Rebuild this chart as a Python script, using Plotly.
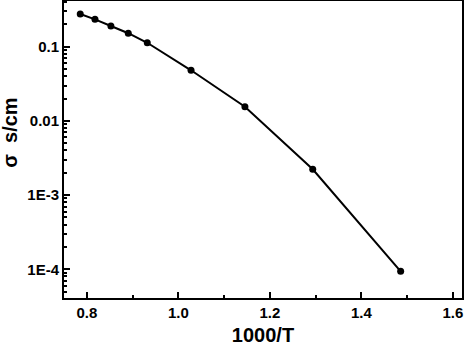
import plotly.graph_objects as go

inv_T = [0.7855, 0.8177, 0.8525, 0.8905, 0.9320, 1.0277, 1.1455, 1.2937, 1.4859]
sigma = [0.276, 0.234, 0.190, 0.152, 0.113, 0.0481, 0.0155, 0.00223, 0.000094]

y_tickvals = [0.1, 0.01, 0.001, 0.0001]
y_ticktext = ["0.1", "0.01", "1E-3", "1E-4"]
y_minor = [m * 10.0 ** e for e in (-5, -4, -3, -2, -1) for m in range(2, 10)]
x_tickvals = [0.8, 1.0, 1.2, 1.4, 1.6]
x_ticktext = ["0.8", "1.0", "1.2", "1.4", "1.6"]
x_title = "1000/T"
y_title = "σ  s/cm"

FONT = "Liberation Sans, Arial, sans-serif"

fig = go.Figure()
fig.add_trace(go.Scatter(
    x=inv_T, y=sigma, mode="lines+markers",
    line=dict(color="black", width=2),
    marker=dict(color="black", size=7),
    showlegend=False,
))

fig.update_layout(
    width=465, height=346,
    margin=dict(l=64, r=3, t=1, b=48),
    paper_bgcolor="white", plot_bgcolor="white",
    font=dict(family=FONT, color="black"),
)
fig.update_xaxes(
    range=[0.75, 1.62], tickvals=x_tickvals, ticktext=x_ticktext,
    ticks="inside", ticklen=6, tickwidth=2, tickcolor="black",
    minor=dict(ticks="inside", ticklen=3, tickwidth=1.5, tickcolor="black", dtick=0.1, showgrid=False),
    showline=True, linecolor="black", linewidth=2, mirror=True,
    showgrid=False, zeroline=False, automargin=False,
    tickfont=dict(size=15, family=FONT, weight="bold"),
    title=dict(text=x_title, font=dict(size=20, family=FONT, weight="bold"), standoff=10),
)
fig.update_yaxes(
    type="log", range=[-4.387, -0.384], tickvals=y_tickvals, ticktext=y_ticktext,
    ticks="inside", ticklen=6, tickwidth=2, tickcolor="black",
    minor=dict(ticks="inside", ticklen=3, tickwidth=1.5, tickcolor="black",
               tickmode="array", tickvals=y_minor, showgrid=False),
    showline=True, linecolor="black", linewidth=2, mirror=True,
    showgrid=False, zeroline=False, automargin=False,
    tickfont=dict(size=15, family=FONT, weight="bold"),
)
fig.add_annotation(
    text=y_title, textangle=-90, showarrow=False,
    xref="paper", yref="paper", x=-0.136, y=0.556,
    xanchor="center", yanchor="middle",
    font=dict(size=20, family=FONT, weight="bold"),
)

fig.write_html("out.html", config={"displayModeBar": False},
               post_script="document.body.style.margin='0';document.body.style.overflow='hidden';")
